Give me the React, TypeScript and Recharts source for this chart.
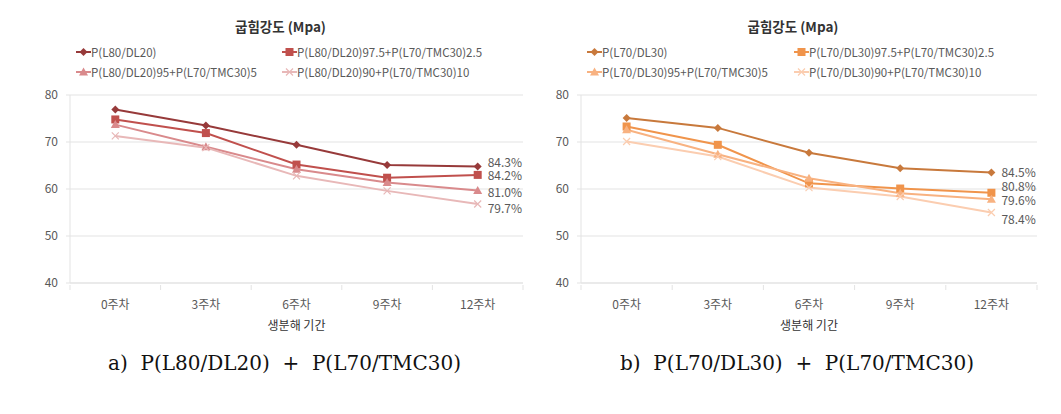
import React from "react";
import {
  LineChart,
  Line,
  XAxis,
  YAxis,
  CartesianGrid,
  Legend,
  LabelList,
} from "recharts";

const weeks = ["0주차", "3주차", "6주차", "9주차", "12주차"];
const yTicks = [40, 50, 60, 70, 80];

// a) P(L80/DL20) + P(L70/TMC30)
const leftNames = [
  "P(L80/DL20)",
  "P(L80/DL20)97.5+P(L70/TMC30)2.5",
  "P(L80/DL20)95+P(L70/TMC30)5",
  "P(L80/DL20)90+P(L70/TMC30)10",
];
const leftS1 = [76.9, 73.5, 69.4, 65.1, 64.8];
const leftS2 = [74.8, 71.9, 65.2, 62.4, 63.0];
const leftS3 = [73.7, 69.0, 64.2, 61.4, 59.7];
const leftS4 = [71.3, 68.8, 62.8, 59.6, 56.8];
const leftRetention = ["84.3%", "84.2%", "81.0%", "79.7%"];

// b) P(L70/DL30) + P(L70/TMC30)
const rightNames = [
  "P(L70/DL30)",
  "P(L70/DL30)97.5+P(L70/TMC30)2.5",
  "P(L70/DL30)95+P(L70/TMC30)5",
  "P(L70/DL30)90+P(L70/TMC30)10",
];
const rightS1 = [75.1, 73.0, 67.7, 64.4, 63.5];
const rightS2 = [73.3, 69.4, 61.2, 60.1, 59.2];
const rightS3 = [72.6, 67.4, 62.3, 59.1, 57.8];
const rightS4 = [70.1, 66.9, 60.3, 58.4, 55.0];
const rightRetention = ["84.5%", "80.8%", "79.6%", "78.4%"];

const FONT = "'Noto Sans CJK KR', 'Noto Sans', sans-serif";
const TEXT = "#595959";
const GRID = "#e3e3e3";

type Shape = "diamond" | "square" | "triangle" | "cross";

const Marker = ({ shape, cx, cy, color }: { shape: Shape; cx: number; cy: number; color: string }) => {
  if (shape === "diamond")
    return <path d={`M${cx},${cy - 4}L${cx + 4},${cy}L${cx},${cy + 4}L${cx - 4},${cy}Z`} fill={color} />;
  if (shape === "square")
    return <rect x={cx - 4} y={cy - 4} width={8} height={8} fill={color} />;
  if (shape === "triangle")
    return <path d={`M${cx},${cy - 4.5}L${cx + 4.5},${cy + 3.5}L${cx - 4.5},${cy + 3.5}Z`} fill={color} />;
  return (
    <path
      d={`M${cx - 3.5},${cy - 3.5}L${cx + 3.5},${cy + 3.5}M${cx + 3.5},${cy - 3.5}L${cx - 3.5},${cy + 3.5}`}
      stroke={color}
      strokeWidth={1.2}
    />
  );
};

const shapes: Shape[] = ["diamond", "square", "triangle", "cross"];

interface PanelProps {
  left: number;
  names: string[];
  series: number[][];
  colors: string[];
  retention: string[];
  labelDy: number[];
  yAxisWidth: number;
  rightMargin: number;
  caption: string;
  legendCols: number[];
}

const CHART_W = 530;
const CHART_H = 320;
const LEGEND_H = 42;
const TOP = 87 - LEGEND_H; // legend height is added on top of the margin

const Panel = ({
  left,
  names,
  series,
  colors,
  retention,
  labelDy,
  yAxisWidth,
  rightMargin,
  caption,
  legendCols,
}: PanelProps) => {
  const data = weeks.map((w, i) => {
    const row: any = { week: w };
    series.forEach((s, k) => (row[`s${k}`] = s[i]));
    return row;
  });
  const plotLeft = yAxisWidth;
  const plotRight = CHART_W - rightMargin;
  const plotCenter = (plotLeft + plotRight) / 2;
  const band = (plotRight - plotLeft) / weeks.length;

  const XTick = (props: any) => {
    const { x, y, payload, index } = props;
    return (
      <g>
        <line x1={x - band / 2} x2={x - band / 2} y1={y} y2={y + 5} stroke={GRID} />
        {index === weeks.length - 1 && (
          <line x1={x + band / 2} x2={x + band / 2} y1={y} y2={y + 5} stroke={GRID} />
        )}
        <text
          x={x}
          y={y + 24}
          textAnchor="middle"
          fill={TEXT}
          style={{ fontFamily: FONT, fontSize: 12 }}
        >
          {payload.value}
        </text>
      </g>
    );
  };

  const renderLegend = () => (
    <div style={{ position: "relative", height: LEGEND_H, fontFamily: FONT, fontSize: 11.5, color: TEXT }}>
      {names.map((n, k) => (
        <div
          key={n}
          style={{
            position: "absolute",
            left: legendCols[k % 2],
            top: Math.floor(k / 2) * 20,
            display: "flex",
            alignItems: "center",
            whiteSpace: "nowrap",
            height: 20,
          }}
        >
          <svg width={15} height={12}>
            <line x1={0} x2={15} y1={6} y2={6} stroke={colors[k]} strokeWidth={2} />
            <Marker shape={shapes[k]} cx={7.5} cy={6} color={colors[k]} />
          </svg>
          <span>{n}</span>
        </div>
      ))}
    </div>
  );

  return (
    <div style={{ position: "absolute", left, top: 0, width: CHART_W, height: 398 }}>
      <div
        style={{
          position: "absolute",
          top: 8,
          left: plotCenter - 16 - 100,
          width: 200,
          textAlign: "center",
          fontFamily: FONT,
          fontWeight: 700,
          fontSize: 13.5,
          color: "#333",
        }}
      >
        굽힘강도 (Mpa)
      </div>
      <LineChart
        width={CHART_W}
        height={CHART_H}
        data={data}
        margin={{ top: TOP, right: rightMargin, bottom: 20, left: 0 }}
      >
        <CartesianGrid vertical={false} stroke={GRID} />
        <XAxis
          dataKey="week"
          height={25}
          tickLine={false}
          tickSize={0}
          axisLine={{ stroke: GRID }}
          tick={<XTick />}
          interval={0}
          padding={{ left: band / 2, right: band / 2 }}
        />
        <YAxis
          width={yAxisWidth}
          domain={[40, 80]}
          ticks={yTicks}
          tickSize={4}
          tickMargin={8}
          tickLine={{ stroke: GRID }}
          axisLine={{ stroke: GRID }}
          tick={{ fill: TEXT, fontSize: 12, fontFamily: FONT }}
        />
        <Legend
          verticalAlign="top"
          content={renderLegend}
          wrapperStyle={{ top: 34, left: 0, width: CHART_W }}
        />
        {series.map((_, k) => (
          <Line
            key={k}
            type="linear"
            dataKey={`s${k}`}
            name={names[k]}
            stroke={colors[k]}
            strokeWidth={2}
            isAnimationActive={false}
            dot={(p: any) => <Marker key={p.index} shape={shapes[k]} cx={p.cx} cy={p.cy} color={colors[k]} />}
            activeDot={false}
          >
            <LabelList
              dataKey={`s${k}`}
              content={(p: any) =>
                p.index === weeks.length - 1 ? (
                  <text
                    x={p.x + 10}
                    y={p.y + labelDy[k] + 4}
                    fill={TEXT}
                    style={{ fontFamily: FONT, fontSize: 12 }}
                  >
                    {retention[k]}
                  </text>
                ) : null
              }
            />
          </Line>
        ))}
      </LineChart>
      <div
        style={{
          position: "absolute",
          top: 308,
          left: plotCenter - 100,
          width: 200,
          textAlign: "center",
          fontFamily: FONT,
          fontSize: 12,
          color: "#333",
        }}
      >
        생분해 기간
      </div>
      <div
        style={{
          position: "absolute",
          top: 343,
          left: plotCenter - 250 - 12,
          width: 500,
          textAlign: "center",
          fontFamily: "'DejaVu Serif', 'Liberation Serif', serif",
          fontSize: 20,
          color: "#111",
          whiteSpace: "pre",
        }}
      >
        {caption}
      </div>
    </div>
  );
};

export default function App() {
  return (
    <div style={{ position: "relative", width: 1045, height: 398, background: "#fff" }}>
      <Panel
        left={0}
        names={leftNames}
        series={[leftS1, leftS2, leftS3, leftS4]}
        colors={["#973a3a", "#c0504d", "#d98a8c", "#e8b8b8"]}
        retention={leftRetention}
        labelDy={[-3, 1, 3, 5]}
        yAxisWidth={62}
        rightMargin={15}
        caption={"a)  P(L80/DL20)  +  P(L70/TMC30)"}
        legendCols={[68, 274]}
      />
      <Panel
        left={520}
        names={rightNames}
        series={[rightS1, rightS2, rightS3, rightS4]}
        colors={["#c8793c", "#f0944b", "#f8b281", "#fbcdb0"]}
        retention={rightRetention}
        labelDy={[0, -6, 2, 7]}
        yAxisWidth={53}
        rightMargin={21}
        caption={"b)  P(L70/DL30)  +  P(L70/TMC30)"}
        legendCols={[59, 266]}
      />
    </div>
  );
}
